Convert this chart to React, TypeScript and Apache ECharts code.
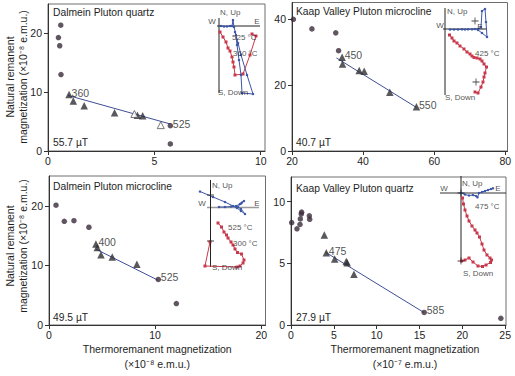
import React, { useEffect, useRef } from 'react';
import * as echarts from 'echarts';

type Pt = [number, number];
type Lbl = [string, number, number];
type ILbl = [string, number, number, string];

const FONT = 'Liberation Sans, Arial, Helvetica, sans-serif';
const TEXT = '#1e1e1e';
const CROSS = 'path://M4.4,0h1.2v4.4h4.4v1.2h-4.4v4.4h-1.2v-4.4h-4.4v-1.2h4.4z';

// ---------- Panel 1: Dalmein Pluton quartz ----------
const tlCircles: Pt[] = [[0.6, 21.4], [0.49, 19.3], [0.55, 17.9], [0.61, 13.0], [5.75, 4.3], [5.75, 1.2]];
const tlTriangles: Pt[] = [[0.99, 9.6], [1.19, 8.5], [1.7, 7.7], [3.13, 6.5], [4.2, 6.1], [4.45, 6.0]];
const tlOpenTriangles: Pt[] = [[4.06, 6.3], [5.3, 4.4]];
const tlFit: Pt[] = [[0.94, 9.45], [5.74, 4.6]];
const tlTemps: Lbl[] = [['360', 0.99, 9.6], ['525', 5.75, 4.3]];
const tlXTicks = [0, 5, 10];
const tlYTicks = [0, 10, 20];

// ---------- Panel 2: Kaap Valley Pluton microcline ----------
const trCircles: Pt[] = [[20.4, 39.9], [25.6, 37.0], [32.3, 35.8], [33.1, 30.4]];
const trTriangles: Pt[] = [[34.1, 28.4], [34.2, 26.4], [38.9, 24.4], [40.3, 24.2], [47.5, 17.8], [55.0, 13.4]];
const trOpenTriangles: Pt[] = [];
const trFit: Pt[] = [[32.5, 28.2], [55.0, 13.2]];
const trTemps: Lbl[] = [['450', 34.1, 28.4], ['550', 55.0, 13.4]];
const trXTicks = [20, 40, 60, 80];
const trYTicks = [0, 20, 40];

// ---------- Panel 3: Dalmein Pluton microcline ----------
const blCircles: Pt[] = [[0.66, 20.1], [1.44, 17.4], [2.35, 17.5], [3.76, 16.4], [10.3, 7.65], [12.0, 3.6]];
const blTriangles: Pt[] = [[4.42, 13.6], [4.55, 13.0], [4.9, 11.8], [5.96, 11.4], [8.28, 10.2]];
const blOpenTriangles: Pt[] = [];
const blFit: Pt[] = [[4.45, 12.7], [10.28, 7.5]];
const blTemps: Lbl[] = [['400', 4.42, 13.6], ['525', 10.3, 7.65]];
const blXTicks = [0, 10, 20];
const blYTicks = [0, 10, 20];

// ---------- Panel 4: Kaap Valley Pluton quartz ----------
const brCircles: Pt[] = [[0.08, 8.3], [0.7, 7.8], [1.05, 8.15], [1.09, 8.6], [1.2, 9.0], [1.24, 9.15], [2.14, 8.85], [2.18, 8.57], [15.55, 1.02], [24.5, 0.54]];
const brTriangles: Pt[] = [[3.89, 7.3], [4.12, 5.85], [5.1, 5.36], [6.45, 5.15], [6.57, 5.04], [7.35, 4.12]];
const brOpenTriangles: Pt[] = [];
const brFit: Pt[] = [[4.04, 5.9], [15.5, 1.02]];
const brTemps: Lbl[] = [['475', 4.12, 5.85], ['585', 15.55, 1.02]];
const brXTicks = [0, 5, 10, 15, 20, 25];
const brYTicks = [0, 5, 10];

const panelTitles = ['Dalmein Pluton quartz', 'Kaap Valley Pluton microcline', 'Dalmein Pluton microcline', 'Kaap Valley Pluton quartz'];
const panelFields = ['55.7 µT', '40.7 µT', '49.5 µT', '27.9 µT'];
const yAxisTitle = 'Natural remanent\nmagnetization (×10⁻⁸ e.m.u.)';
const xAxisTitles = ['', '', 'Thermoremanent magnetization\n(×10⁻⁸ e.m.u.)', 'Thermoremanent magnetization\n(×10⁻⁷ e.m.u.)'];

// ---------- Inset vector diagrams (local units) ----------
const tlInsetH: Pt[] = [[17, 21], [60, 21]];
const tlInsetV: Pt[] = [[19, 13], [19, 88]];
const tlInsetBlue: Pt[] = [[21, 21], [24, 21.5], [27, 21.5], [30, 21], [32, 21], [33, 15], [34, 22], [36, 30], [37, 40], [39, 55], [41, 70], [42, 88], [53, 89], [47, 70], [41, 50], [38, 38], [35, 27]];
const tlInsetRed: Pt[] = [[52, 29], [56, 31], [50, 50], [43, 69], [35, 70], [34, 62], [33, 57], [32, 52], [30, 46], [28, 43], [26, 37], [23, 32], [20, 27]];
const tlInsetCross: Pt[] = [];
const tlInsetText: ILbl[] = [['N, Up', 20, 7, 'left'], ['W', 12, 16, 'center'], ['E', 57, 16, 'center'], ['S, Down', 18, 87, 'left'], ['525 °C', 32, 32, 'left'], ['360 °C', 33, 48, 'left']];

const trInsetH: Pt[] = [[3, 24], [47, 24]];
const trInsetV: Pt[] = [[5, 3], [5, 90]];
const trInsetBlue: Pt[] = [[10, 24.5], [14, 24.5], [18, 24.5], [22, 24.3], [25, 24.5], [28, 24.3], [32, 24.3], [35, 24], [38, 24], [41, 22], [42, 6], [45, 4], [46, 17], [47, 32], [42, 28], [38, 25]];
const trInsetRed: Pt[] = [[9.5, 30], [12, 33], [14, 36], [17, 38], [20, 41], [24, 44], [27, 47], [30, 49], [32, 51], [34, 52.5], [37, 53], [40, 54], [42, 56], [44, 59], [46.5, 62], [45, 68], [44, 72], [43, 77], [41, 82], [38, 88], [35, 87]];
const trInsetCross: Pt[] = [[35, 16], [36, 77]];
const trInsetText: ILbl[] = [['N, Up', 7, 6, 'left'], ['W', 0, 20, 'center'], ['E', 40, 21, 'center'], ['S, Down', 5, 92, 'left'], ['425 °C', 35, 48, 'left']];

const blInsetH: Pt[] = [[12, 27.5], [64, 27.5]];
const blInsetV: Pt[] = [[15.5, 0], [15.5, 87]];
const blInsetBlue: Pt[] = [[5, 11.5], [18, 17], [30, 22], [38, 26], [42, 28], [46, 31], [50, 34], [46, 29], [43, 27], [45, 24], [47, 22.5], [49, 21], [46, 23.5], [41, 26], [36, 26.5], [30, 27], [24, 27]];
const blInsetRed: Pt[] = [[23, 43], [26.5, 47], [29, 52], [31.5, 55], [33, 58], [36, 62], [38, 65], [40, 69], [42.5, 72.5], [46.5, 74], [49, 80], [48, 83], [45, 86], [42, 87], [10, 86], [15, 62]];
const blInsetCross: Pt[] = [[15.5, 15], [15.5, 61]];
const blInsetText: ILbl[] = [['N, Up', 17, 5, 'left'], ['W', 7, 23, 'center'], ['E', 62, 23, 'center'], ['S, Down', 17, 87, 'left'], ['525 °C', 33, 47, 'left'], ['300 °C', 38, 63, 'left']];

const brInsetH: Pt[] = [[0, 15], [66, 15]];
const brInsetV: Pt[] = [[21, -2], [21, 84]];
const brInsetBlue: Pt[] = [[21, 15], [25, 16.5], [29, 17.5], [33, 17], [36, 18], [37.5, 19.3], [39, 15], [42, 14], [45, 13], [48, 12], [51, 11], [53, 10.3]];
const brInsetRed: Pt[] = [[22.5, 20], [23.5, 26], [25, 32], [27, 38], [29, 43], [32, 48], [35, 52], [37, 55], [39.5, 59], [42, 66], [44, 72], [47, 77], [50, 80], [51.5, 82], [50.5, 84.5], [46, 87], [42.5, 88.5], [38, 88], [33, 84], [29, 80], [25, 82], [21.5, 83]];
const brInsetCross: Pt[] = [[21, 15], [21, 83]];
const brInsetText: ILbl[] = [['W', 4, 10, 'center'], ['N, Up', 22, 5, 'left'], ['E', 58, 10, 'center'], ['475 °C', 35, 28, 'left'], ['S, Down', 23, 95, 'left']];

// ---------- Layout (positions only) ----------
const LAYOUT = [
  { left: 48, top: 4, width: 217, height: 147, xMin: 0, xMax: 10.2, yMax: 25, titleX: 53, titleY: 12, fieldY: 142, yTitle: true, yTitleY: 77, nameShift: 0 },
  { left: 292, top: 2.5, width: 215.5, height: 148.5, xMin: 20, xMax: 80.6, yMax: 45, titleX: 296, titleY: 11, fieldY: 142, yTitle: false, yTitleY: 0, nameShift: 0 },
  { left: 49, top: 176, width: 216.5, height: 149, xMin: 0, xMax: 20.4, yMax: 25, titleX: 53, titleY: 186, fieldY: 317, yTitle: true, yTitleY: 246, nameShift: 0 },
  { left: 291, top: 177, width: 215, height: 148, xMin: 0, xMax: 25.1, yMax: 12, titleX: 296, titleY: 188, fieldY: 317, yTitle: false, yTitleY: 0, nameShift: 13 },
];
const INSETS = [
  { left: 200, top: 5, width: 65, height: 95 },
  { left: 440, top: 5, width: 70, height: 95 },
  { left: 195, top: 180, width: 70, height: 100 },
  { left: 440, top: 178, width: 70, height: 105 },
];

const PANELS = [
  { circles: tlCircles, tri: tlTriangles, open: tlOpenTriangles, fit: tlFit, temps: tlTemps, xTicks: tlXTicks, yTicks: tlYTicks },
  { circles: trCircles, tri: trTriangles, open: trOpenTriangles, fit: trFit, temps: trTemps, xTicks: trXTicks, yTicks: trYTicks },
  { circles: blCircles, tri: blTriangles, open: blOpenTriangles, fit: blFit, temps: blTemps, xTicks: blXTicks, yTicks: blYTicks },
  { circles: brCircles, tri: brTriangles, open: brOpenTriangles, fit: brFit, temps: brTemps, xTicks: brXTicks, yTicks: brYTicks },
];
const INSET_DATA = [
  { h: tlInsetH, v: tlInsetV, blue: tlInsetBlue, red: tlInsetRed, cross: tlInsetCross, text: tlInsetText, hColor: '#222', hWidth: 1 },
  { h: trInsetH, v: trInsetV, blue: trInsetBlue, red: trInsetRed, cross: trInsetCross, text: trInsetText, hColor: '#222', hWidth: 1 },
  { h: blInsetH, v: blInsetV, blue: blInsetBlue, red: blInsetRed, cross: blInsetCross, text: blInsetText, hColor: '#9a9a9a', hWidth: 1.6 },
  { h: brInsetH, v: brInsetV, blue: brInsetBlue, red: brInsetRed, cross: brInsetCross, text: brInsetText, hColor: '#333', hWidth: 1 },
];

function buildOption() {
  const grid: any[] = [];
  const xAxis: any[] = [];
  const yAxis: any[] = [];
  const series: any[] = [];
  const graphic: any[] = [];

  PANELS.forEach((p, i) => {
    const L = LAYOUT[i];
    grid.push({ left: L.left, top: L.top, width: L.width, height: L.height, show: true, borderColor: '#6e6e6e', borderWidth: 1, backgroundColor: 'transparent' });
    xAxis.push({
      type: 'value', gridIndex: i, min: L.xMin, max: L.xMax,
      axisLine: { show: true, onZero: false, lineStyle: { color: '#333', width: 1 } },
      axisTick: { show: true, length: 4, customValues: p.xTicks, lineStyle: { color: '#333' } },
      axisLabel: { customValues: p.xTicks, margin: 4, fontSize: 10.5, color: TEXT, fontFamily: FONT },
      splitLine: { show: false },
      name: xAxisTitles[i], nameLocation: 'middle', nameGap: 16,
      nameTextStyle: { fontSize: 10.5, lineHeight: 15, color: TEXT, fontFamily: FONT, padding: [0, 0, 0, L.nameShift] },
    });
    yAxis.push({
      type: 'value', gridIndex: i, min: 0, max: L.yMax,
      axisLine: { show: true, onZero: false, lineStyle: { color: '#333', width: 1 } },
      axisTick: { show: true, length: 4, customValues: p.yTicks, lineStyle: { color: '#333' } },
      axisLabel: { customValues: p.yTicks, margin: 6, fontSize: 10.5, color: TEXT, fontFamily: FONT },
      splitLine: { show: false },
    });
    series.push({
      type: 'line', xAxisIndex: i, yAxisIndex: i, data: p.fit, symbol: 'none',
      lineStyle: { color: '#3f4f96', width: 1 }, z: 2, silent: true,
    });
    series.push({
      type: 'scatter', xAxisIndex: i, yAxisIndex: i, data: p.circles, symbol: 'circle', symbolSize: 5.5,
      itemStyle: { color: '#3a2a3a' }, z: 3,
    });
    series.push({
      type: 'scatter', xAxisIndex: i, yAxisIndex: i, data: p.tri, symbol: 'triangle', symbolSize: 7.5,
      itemStyle: { color: '#2e2e34' }, z: 3,
    });
    series.push({
      type: 'scatter', xAxisIndex: i, yAxisIndex: i, data: p.open, symbol: 'triangle', symbolSize: 7,
      itemStyle: { color: '#fff', borderColor: '#555', borderWidth: 1 }, z: 3,
    });
    series.push({
      type: 'scatter', xAxisIndex: i, yAxisIndex: i, symbolSize: 1,
      data: p.temps.map(([t, x, y]) => ({ value: [x, y], name: t })),
      itemStyle: { color: 'rgba(0,0,0,0)' }, z: 4,
      label: { show: true, formatter: '{b}', position: 'right', distance: 2, offset: [0, -2], fontSize: 10.5, color: TEXT, fontFamily: FONT },
    });

    graphic.push({ type: 'text', x: L.titleX, y: L.titleY, style: { text: panelTitles[i], fontSize: 10.3, fill: TEXT, fontFamily: FONT, textVerticalAlign: 'middle' } });
    graphic.push({ type: 'text', x: L.titleX, y: L.fieldY, style: { text: panelFields[i], fontSize: 10.3, fill: TEXT, fontFamily: FONT, textVerticalAlign: 'middle' } });
    if (L.yTitle) {
      graphic.push({
        type: 'text', x: 16.4, y: L.yTitleY, rotation: Math.PI / 2,
        style: { text: yAxisTitle, fontSize: 10.5, lineHeight: 12.7, fill: TEXT, fontFamily: FONT, textAlign: 'center', textVerticalAlign: 'middle' },
      });
    }
  });

  INSET_DATA.forEach((d, k) => {
    const gi = 4 + k;
    const I = INSETS[k];
    grid.push({ left: I.left, top: I.top, width: I.width, height: I.height, show: false });
    xAxis.push({ type: 'value', gridIndex: gi, min: 0, max: I.width, show: false });
    yAxis.push({ type: 'value', gridIndex: gi, min: 0, max: I.height, inverse: true, show: false });
    const base = { xAxisIndex: gi, yAxisIndex: gi, clip: false, silent: true };
    series.push({ ...base, type: 'line', data: d.h, symbol: 'none', lineStyle: { color: d.hColor, width: d.hWidth }, z: 5 });
    series.push({ ...base, type: 'line', data: d.v, symbol: 'none', lineStyle: { color: '#222', width: 1 }, z: 5 });
    series.push({ ...base, type: 'line', data: d.red, symbol: 'rect', symbolSize: 3, itemStyle: { color: '#c8394c' }, lineStyle: { color: '#c8394c', width: 1 }, z: 6 });
    series.push({ ...base, type: 'line', data: d.blue, symbol: 'circle', symbolSize: 2.5, itemStyle: { color: '#3c56a8' }, lineStyle: { color: '#3c56a8', width: 1 }, z: 6 });
    series.push({ ...base, type: 'scatter', data: d.cross, symbol: CROSS, symbolSize: 7, itemStyle: { color: '#1a1a1a' }, z: 7 });
    series.push({
      ...base, type: 'scatter', symbolSize: 1, itemStyle: { color: 'rgba(0,0,0,0)' }, z: 7,
      data: d.text.map(([t, x, y, a]) => ({
        value: [x, y], name: t,
        label: {
          show: true, formatter: '{b}', position: [0.5, 0.5], align: a, verticalAlign: 'middle',
          fontSize: 8, color: TEXT, fontFamily: FONT, textBorderWidth: 0,
        },
      })),
    });
  });

  return {
    animation: false,
    backgroundColor: '#fff',
    grid, xAxis, yAxis, series, graphic,
  };
}

export default function App() {
  const ref = useRef<HTMLDivElement>(null);
  useEffect(() => {
    document.body.style.margin = '0';
    const chart = echarts.init(ref.current!, null, { renderer: 'svg' });
    chart.setOption(buildOption() as any);
    return () => chart.dispose();
  }, []);
  return <div ref={ref} style={{ width: 515, height: 376 }} />;
}
